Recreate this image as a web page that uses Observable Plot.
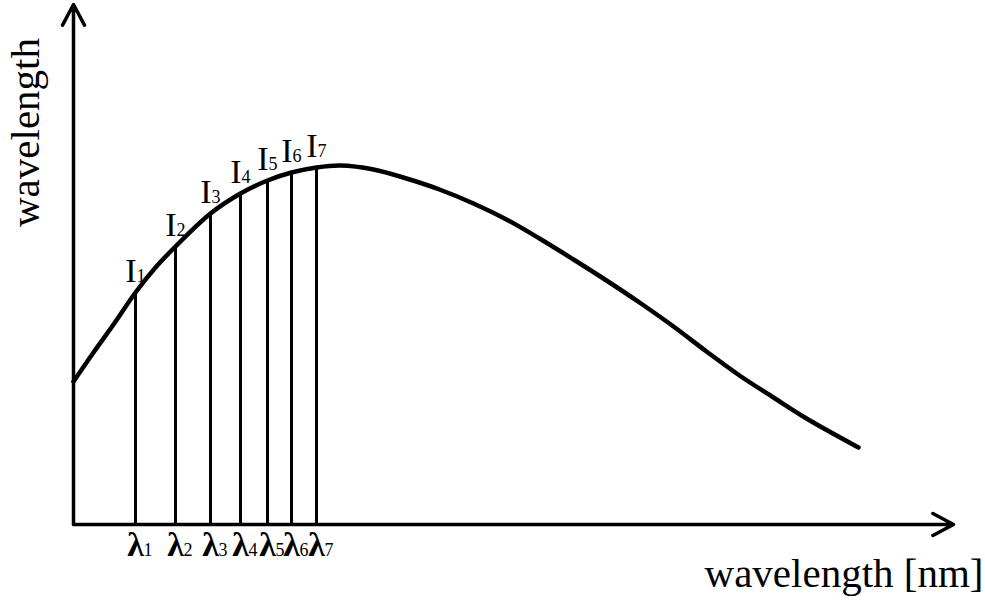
<!DOCTYPE html>
<html>
<head>
<meta charset="utf-8">
<script src="https://cdn.jsdelivr.net/npm/d3@7"></script>
<script src="https://cdn.jsdelivr.net/npm/@observablehq/plot@0.6"></script>
<style>
  html, body { margin: 0; padding: 0; background: #fff; }
  #chart svg { display: block; }
</style>
</head>
<body>
<div id="chart"></div>
<script>
// Spectrum curve (arbitrary units)
const curveX = [0, 20, 40, 62, 82, 102, 137, 167, 194, 218, 243, 267, 300, 333, 366, 400, 433, 466, 500, 533, 566, 600, 633, 666, 700, 733, 785];
const curveY = [143, 172, 200, 232, 257, 278, 311, 331, 344, 352, 357, 359, 355, 346, 335, 321, 305, 286, 265, 244, 222, 198, 173, 149, 127, 106, 77];

// Sampled wavelengths and intensities
const lambdaX = [62, 102, 137, 167, 194, 218, 243];
const intensity = [232, 278, 311, 331, 344, 352, 357];
const subscripts = ["1", "2", "3", "4", "5", "6", "7"];

const xLabel = "wavelength [nm]";
const yLabel = "wavelength";
const xMax = 880;
const yMax = 520;

const curve = curveX.map((x, i) => ({x, y: curveY[i]}));
const samples = lambdaX.map((x, i) => ({x, y: intensity[i], s: subscripts[i]}));

const font = "'Liberation Serif', 'Times New Roman', serif";

const chart = Plot.plot({
  width: 985,
  height: 602,
  marginLeft: 73,
  marginRight: 32,
  marginTop: 4,
  marginBottom: 78,
  style: {fontFamily: font, background: "#fff", color: "#000"},
  x: {domain: [0, xMax], axis: null},
  y: {domain: [0, yMax], axis: null},
  marks: [
    // axes with arrowheads
    Plot.arrow([{x1: 0, y1: 0, x2: xMax, y2: 0}], {x1: "x1", y1: "y1", x2: "x2", y2: "y2", stroke: "#000", strokeWidth: 3.5, headLength: 10, headAngle: 56}),
    Plot.arrow([{x1: 0, y1: 0, x2: 0, y2: yMax}], {x1: "x1", y1: "y1", x2: "x2", y2: "y2", stroke: "#000", strokeWidth: 3.5, headLength: 10, headAngle: 56}),
    // vertical sample lines
    Plot.ruleX(samples, {x: "x", y1: 0, y2: "y", stroke: "#000", strokeWidth: 3}),
    // spectrum curve
    Plot.line(curve, {x: "x", y: "y", curve: "catmull-rom", stroke: "#000", strokeWidth: 4.5}),
    // I labels
    Plot.text(samples, {x: "x", y: "y", text: () => "I", textAnchor: "end", lineAnchor: "bottom", dx: 1, dy: -11, fontSize: 34, fill: "#000"}),
    Plot.text(samples, {x: "x", y: "y", text: "s", textAnchor: "start", lineAnchor: "bottom", dx: 1, dy: -11, fontSize: 18, fill: "#000"}),
    // lambda labels
    Plot.text(samples, {x: "x", y: 0, text: () => "λ", textAnchor: "middle", lineAnchor: "bottom", dy: 31, fontSize: 34, fontWeight: "bold", fill: "#000"}),
    Plot.text(samples, {x: "x", y: 0, text: "s", textAnchor: "start", lineAnchor: "bottom", dx: 8, dy: 31, fontSize: 18, fill: "#000"}),
    // axis titles
    Plot.text([xLabel], {frameAnchor: "bottom-right", text: d => d, textAnchor: "end", lineAnchor: "bottom", dx: 30, dy: 62, fontSize: 41, fill: "#000"}),
    Plot.text([yLabel], {frameAnchor: "top-left", text: d => d, rotate: -90, textAnchor: "middle", lineAnchor: "bottom", dx: -35, dy: 128, fontSize: 41, fill: "#000"})
  ]
});
document.getElementById("chart").appendChild(chart);
</script>
</body>
</html>
